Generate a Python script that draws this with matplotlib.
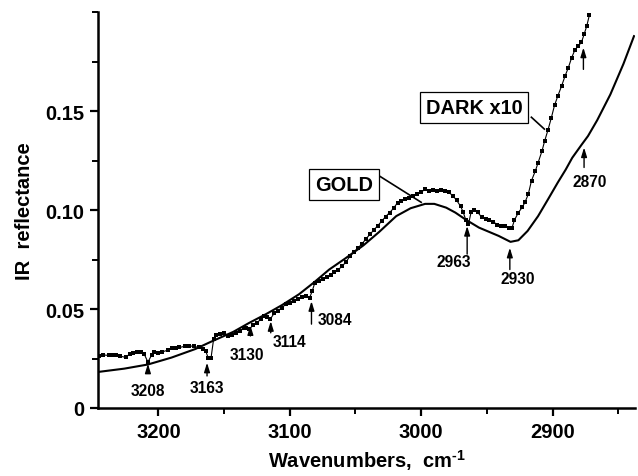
import matplotlib
matplotlib.use("Agg")
import matplotlib.pyplot as plt
from matplotlib.ticker import FixedLocator, FixedFormatter, MultipleLocator

plt.rcParams['font.family'] = ['Liberation Sans', 'DejaVu Sans']
plt.rcParams['font.weight'] = 'bold'
plt.rcParams['mathtext.fontset'] = 'custom'
plt.rcParams['mathtext.rm'] = 'Liberation Sans:bold'
plt.rcParams['mathtext.bf'] = 'Liberation Sans:bold'
plt.rcParams['mathtext.default'] = 'bf'

# ---- data ----
gold_wn = [3245, 3226, 3208, 3190, 3172, 3160, 3143, 3131, 3118, 3106, 3093, 3081,
           3070, 3058, 3044, 3032, 3019, 3008, 2997, 2990, 2981, 2974, 2966, 2956,
           2941, 2932, 2926, 2919, 2911, 2903, 2896, 2890, 2885, 2878, 2873, 2866,
           2856, 2846, 2838]
gold_val = [0.0183, 0.0199, 0.0220, 0.0255, 0.0298, 0.0335, 0.0385, 0.0430, 0.0475,
            0.0520, 0.0575, 0.0638, 0.0700, 0.0755, 0.0822, 0.0890, 0.0970, 0.1010,
            0.1032, 0.1032, 0.1013, 0.0988, 0.0952, 0.0912, 0.0870, 0.0840, 0.0848,
            0.0895, 0.0970, 0.1060, 0.1140, 0.1205, 0.1265, 0.1330, 0.1375, 0.1455,
            0.1585, 0.1740, 0.1880]

dark_wn = [3245, 3242, 3238, 3235, 3232, 3229, 3225, 3222, 3219, 3216, 3213, 3211,
           3208, 3205, 3203, 3200, 3197, 3193, 3190, 3187, 3184, 3180, 3177, 3173,
           3169, 3166, 3164, 3162, 3160, 3158, 3156, 3153, 3150, 3147, 3144, 3141,
           3138, 3135, 3133, 3131, 3128, 3125, 3122, 3120, 3117, 3115, 3112, 3109,
           3106, 3103, 3100, 3097, 3094, 3091, 3088, 3085, 3083, 3081, 3078, 3075,
           3072, 3069, 3066, 3063, 3060, 3057, 3054, 3051, 3048, 3045, 3042, 3039,
           3036, 3033, 3030, 3027, 3024, 3021, 3018, 3015, 3012, 3009, 3006, 3003,
           3000, 2997, 2994, 2991, 2988, 2985, 2982, 2979, 2976, 2973, 2970, 2968,
           2966, 2964, 2962, 2960, 2957, 2954, 2951, 2948, 2945, 2942, 2939, 2936,
           2933, 2931, 2929, 2926, 2923, 2921, 2918.5, 2916, 2913, 2911, 2908, 2906,
           2903.5, 2901, 2898.5, 2896, 2893, 2890.5, 2888, 2885.5, 2883, 2880.5,
           2878, 2876, 2874, 2872]
dark_val = [0.0265, 0.0268, 0.0266, 0.0270, 0.0268, 0.0262, 0.0256, 0.0272, 0.0280,
            0.0282, 0.0284, 0.0275, 0.0232, 0.0270, 0.0281, 0.0277, 0.0284, 0.0292,
            0.0301, 0.0303, 0.0306, 0.0312, 0.0315, 0.0311, 0.0306, 0.0300, 0.0288,
            0.0251, 0.0251, 0.0348, 0.0370, 0.0375, 0.0381, 0.0365, 0.0368, 0.0378,
            0.0390, 0.0402, 0.0406, 0.0398, 0.0418, 0.0432, 0.0448, 0.0466, 0.0460,
            0.0448, 0.0478, 0.0492, 0.0508, 0.0524, 0.0531, 0.0540, 0.0550, 0.0562,
            0.0567, 0.0556, 0.0590, 0.0632, 0.0642, 0.0650, 0.0660, 0.0672, 0.0686,
            0.0700, 0.0718, 0.0740, 0.0770, 0.0790, 0.0810, 0.0830, 0.0855, 0.0878,
            0.0900, 0.0922, 0.0945, 0.0968, 0.0988, 0.1010, 0.1038, 0.1045, 0.1055,
            0.1062, 0.1072, 0.1082, 0.1092, 0.1105, 0.1098, 0.1102, 0.1095, 0.1100,
            0.1097, 0.1090, 0.1074, 0.1050, 0.1020, 0.0990, 0.0950, 0.0928, 0.0990,
            0.1000, 0.0990, 0.0965, 0.0958, 0.0950, 0.0942, 0.0925, 0.0920, 0.0920,
            0.0910, 0.0908, 0.0950, 0.0988, 0.1015, 0.1040, 0.1080, 0.1150, 0.1200,
            0.1240, 0.1300, 0.1350, 0.1405, 0.1465, 0.1530, 0.1577, 0.1630, 0.1678,
            0.1720, 0.1770, 0.1810, 0.1830, 0.1848, 0.1889, 0.1930, 0.1985]

# peak annotations: label, arrow x, arrow tip, arrow tail, label x, label y
peak_labels = ["3208", "3163", "3130", "3114", "3084", "2963", "2930", "2870", ""]
peak_x      = [3208, 3163, 3130, 3114.5, 3083.5, 2965, 2932.5, 2876, 2876.5]
peak_tip    = [0.0224, 0.0229, 0.0418, 0.0439, 0.0540, 0.0920, 0.0810, 0.1317, 0.1822]
peak_tail   = [0.0183, 0.0162, 0.0364, 0.0380, 0.0424, 0.0778, 0.0700, 0.1216, 0.1712]
label_x     = [3208, 3163, 3132.4, 3100.6, 3066, 2975.4, 2926.3, 2871.8, 2876.5]
label_y     = [0.0091, 0.0103, 0.0271, 0.0338, 0.0448, 0.0742, 0.0653, 0.1143, 0.16]

xticks = [3200, 3100, 3000, 2900]
yticks = [0, 0.05, 0.10, 0.15]
ytick_labels = ["0", "0.05", "0.10", "0.15"]

fig = plt.figure(figsize=(6.38, 4.77), dpi=100)
ax = fig.add_axes([98/638, 1 - 409/477, (635.3 - 98)/638, (409 - 13.4)/477])

ax.plot(gold_wn, gold_val, color='black', lw=1.5, solid_joinstyle='round')
ax.plot(dark_wn, dark_val, color='black', lw=0.8, marker='s', ms=2.2,
        markerfacecolor='black', markeredgewidth=0)

ax.set_xlim(3246, 2837)
ax.set_ylim(0, 0.2)

ax.spines['top'].set_visible(False)
ax.spines['right'].set_visible(False)
for s in ['left', 'bottom']:
    ax.spines[s].set_linewidth(1.8)

ax.xaxis.set_major_locator(FixedLocator(xticks))
ax.xaxis.set_minor_locator(MultipleLocator(50))
ax.yaxis.set_major_locator(FixedLocator(yticks))
ax.yaxis.set_major_formatter(FixedFormatter(ytick_labels))
ax.yaxis.set_minor_locator(MultipleLocator(0.025))
ax.tick_params(axis='both', which='major', length=6, width=1.6, labelsize=14.5, pad=4)
ax.tick_params(axis='both', which='minor', length=4, width=1.4)
for lab in ax.get_xticklabels() + ax.get_yticklabels():
    lab.set_fontweight('bold')

ax.set_ylabel("IR  reflectance", fontsize=14.5, fontweight='bold', labelpad=8)
ax.set_xlabel(r"Wavenumbers,  cm$^{\text{-}1}$", fontsize=14.5, fontweight='bold')
ax.xaxis.set_label_coords(0.5, -0.1)

for lab, x, tip, tail, lx, ly in zip(peak_labels, peak_x, peak_tip, peak_tail, label_x, label_y):
    ax.annotate('', xy=(x, tip), xytext=(x, tail),
                arrowprops=dict(arrowstyle='-|>,head_length=0.55,head_width=0.17',
                                color='black', lw=1.0, shrinkA=0, shrinkB=0))
    if lab:
        ax.text(lx, ly, lab, fontsize=11.2, fontweight='bold', ha='center', va='center')

# box labels with leader lines
ax.plot([3032.3, 3000.0], [0.1175, 0.1040], color='black', lw=1.2)
ax.text(3058.7, 0.1128, "GOLD", fontsize=14.4, fontweight='bold', ha='center', va='center',
        bbox=dict(boxstyle='square,pad=0.3', fc='white', ec='black', lw=0.9))
ax.plot([2916.1, 2906.2], [0.147, 0.141], color='black', lw=1.2)
ax.text(2959.7, 0.152, "DARK x10", fontsize=14.4, fontweight='bold', ha='center', va='center',
        bbox=dict(boxstyle='square,pad=0.3', fc='white', ec='black', lw=0.9))

fig.savefig("out.png", dpi=100)
